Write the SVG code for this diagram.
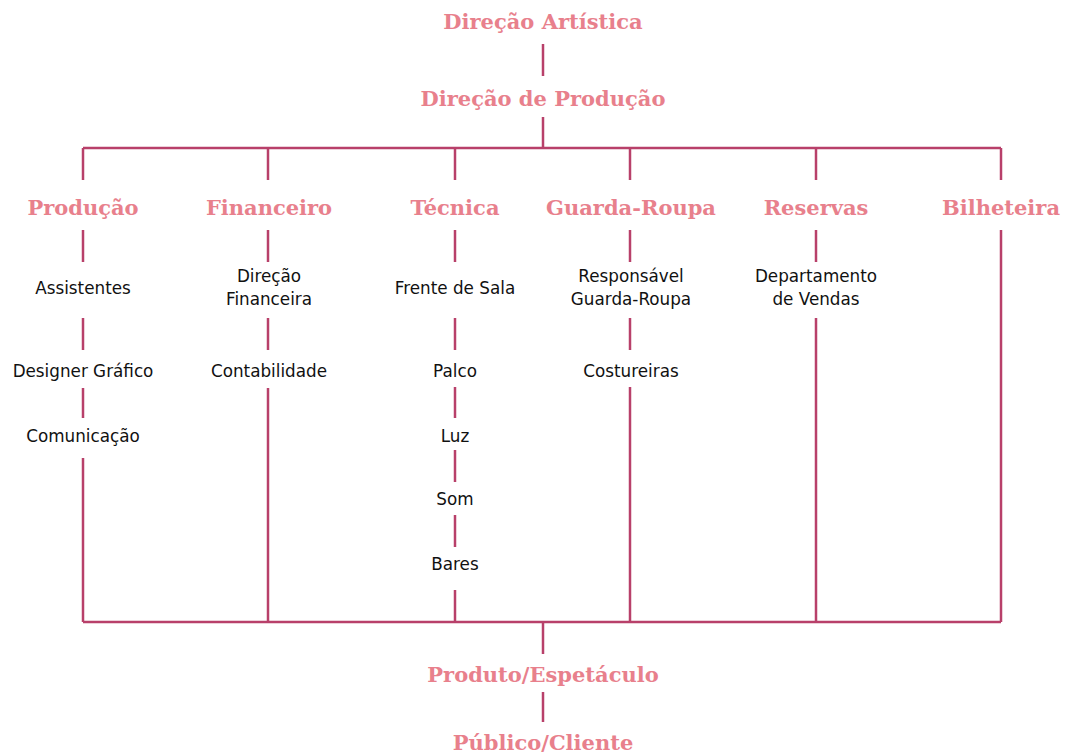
<svg xmlns="http://www.w3.org/2000/svg" width="1070" height="756" viewBox="0 0 1070 756">
<style>
.h{font-family:"DejaVu Serif",serif;font-weight:bold;font-size:21px;fill:#E8808C;text-anchor:middle}
.t{font-family:"DejaVu Sans",sans-serif;font-size:16.8px;fill:#111;text-anchor:middle}
.c line{stroke:#B8406A;stroke-width:2.5;fill:none}
</style>
<rect width="1070" height="756" fill="#fff"/>
<g class="c" id="connectors">
<line x1="543" y1="44" x2="543" y2="76"/>
<line x1="543" y1="117" x2="543" y2="148"/>
<line x1="83" y1="148" x2="1001" y2="148"/>
<line x1="83" y1="148" x2="83" y2="180"/>
<line x1="268" y1="148" x2="268" y2="180"/>
<line x1="455" y1="148" x2="455" y2="180"/>
<line x1="630" y1="148" x2="630" y2="180"/>
<line x1="816" y1="148" x2="816" y2="180"/>
<line x1="1001" y1="148" x2="1001" y2="180"/>
<line x1="83" y1="230" x2="83" y2="262"/>
<line x1="83" y1="318" x2="83" y2="350"/>
<line x1="83" y1="388" x2="83" y2="418"/>
<line x1="83" y1="458" x2="83" y2="622"/>
<line x1="268" y1="230" x2="268" y2="262"/>
<line x1="268" y1="318" x2="268" y2="350"/>
<line x1="268" y1="388" x2="268" y2="622"/>
<line x1="455" y1="230" x2="455" y2="262"/>
<line x1="455" y1="318" x2="455" y2="350"/>
<line x1="455" y1="387" x2="455" y2="418"/>
<line x1="455" y1="450" x2="455" y2="482"/>
<line x1="455" y1="515" x2="455" y2="547"/>
<line x1="455" y1="590" x2="455" y2="622"/>
<line x1="630" y1="230" x2="630" y2="262"/>
<line x1="630" y1="318" x2="630" y2="350"/>
<line x1="630" y1="387" x2="630" y2="622"/>
<line x1="816" y1="230" x2="816" y2="262"/>
<line x1="816" y1="318" x2="816" y2="622"/>
<line x1="1001" y1="230" x2="1001" y2="622"/>
<line x1="83" y1="622" x2="1001" y2="622"/>
<line x1="543" y1="622" x2="543" y2="654"/>
<line x1="543" y1="692" x2="543" y2="722"/>
</g>
<g id="n-direcao-artistica"><text class="h" x="543" y="29">Direção Artística</text></g>
<g id="n-direcao-producao"><text class="h" x="543" y="106">Direção de Produção</text></g>
<g id="n-producao"><text class="h" x="83" y="215">Produção</text></g>
<g id="n-financeiro"><text class="h" x="269" y="215">Financeiro</text></g>
<g id="n-tecnica"><text class="h" x="455" y="215">Técnica</text></g>
<g id="n-guarda-roupa"><text class="h" x="631" y="215">Guarda-Roupa</text></g>
<g id="n-reservas"><text class="h" x="816" y="215">Reservas</text></g>
<g id="n-bilheteira"><text class="h" x="1001" y="215">Bilheteira</text></g>
<g id="n-assistentes"><text class="t" x="83" y="294">Assistentes</text></g>
<g id="n-designer"><text class="t" x="83" y="377">Designer Gráfico</text></g>
<g id="n-comunicacao"><text class="t" x="83" y="442">Comunicação</text></g>
<g id="n-direcao-financeira"><text class="t" x="269" y="282">Direção</text><text class="t" x="269" y="305">Financeira</text></g>
<g id="n-contabilidade"><text class="t" x="269" y="377">Contabilidade</text></g>
<g id="n-frente-sala"><text class="t" x="455" y="294">Frente de Sala</text></g>
<g id="n-palco"><text class="t" x="455" y="377">Palco</text></g>
<g id="n-luz"><text class="t" x="455" y="442">Luz</text></g>
<g id="n-som"><text class="t" x="455" y="505">Som</text></g>
<g id="n-bares"><text class="t" x="455" y="570">Bares</text></g>
<g id="n-responsavel"><text class="t" x="631" y="282">Responsável</text><text class="t" x="631" y="305">Guarda-Roupa</text></g>
<g id="n-costureiras"><text class="t" x="631" y="377">Costureiras</text></g>
<g id="n-departamento"><text class="t" x="816" y="282">Departamento</text><text class="t" x="816" y="305">de Vendas</text></g>
<g id="n-produto"><text class="h" x="543" y="682">Produto/Espetáculo</text></g>
<g id="n-publico"><text class="h" x="543" y="750">Público/Cliente</text></g>
</svg>
